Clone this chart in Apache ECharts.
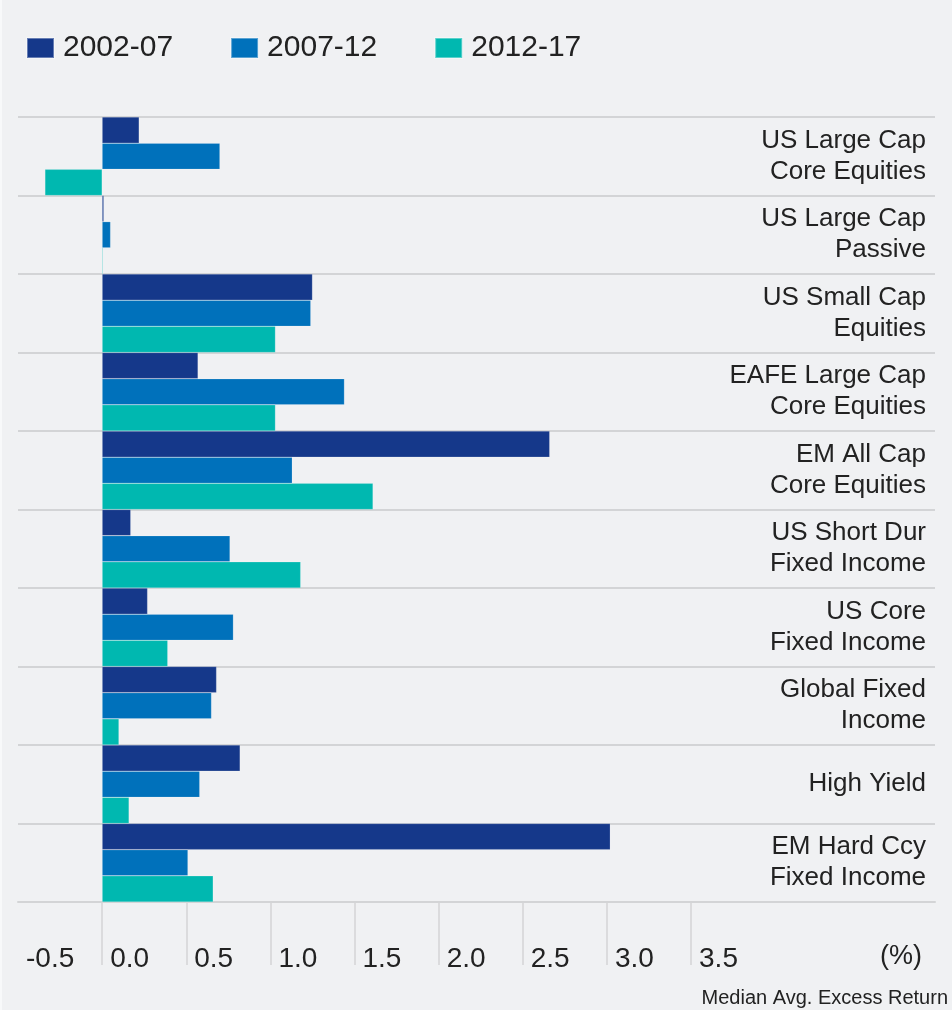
<!DOCTYPE html>
<html>
<head>
<meta charset="utf-8">
<script src="https://cdn.jsdelivr.net/npm/echarts@6/dist/echarts.min.js"></script>
<style>
  html, body { margin: 0; padding: 0; background: #f0f1f3; }
  #chart { width: 952px; height: 1010px; }
</style>
</head>
<body>
<div id="chart"></div>
<script>
const categories = [
  "US Large Cap\nCore Equities",
  "US Large Cap\nPassive",
  "US Small Cap\nEquities",
  "EAFE Large Cap\nCore Equities",
  "EM All Cap\nCore Equities",
  "US Short Dur\nFixed Income",
  "US Core\nFixed Income",
  "Global Fixed\nIncome",
  "High Yield",
  "EM Hard Ccy\nFixed Income"
];
const period1 = [0.22, 0.01, 1.25, 0.57, 2.66, 0.17, 0.27, 0.68, 0.82, 3.02];
const period2 = [0.70, 0.05, 1.24, 1.44, 1.13, 0.76, 0.78, 0.65, 0.58, 0.51];
const period3 = [-0.34, 0.005, 1.03, 1.03, 1.61, 1.18, 0.39, 0.10, 0.16, 0.66];
const labelTicks = [-0.5, 0, 0.5, 1, 1.5, 2, 2.5, 3, 3.5];
const lineTicks = [0, 0.5, 1, 1.5, 2, 2.5, 3, 3.5];

const font = "Liberation Sans";
const grey = "#d3d4d6";

const chart = echarts.init(document.getElementById("chart"));

function bar(name, data, color) {
  return {
    name: name,
    type: "bar",
    data: data,
    barGap: "0%",
    barCategoryGap: "0%",
    itemStyle: { color: color, borderColor: "rgba(255,255,255,0.35)", borderWidth: 0.5 },
    silent: true
  };
}

chart.setOption({
  backgroundColor: "#f0f1f3",
  animation: false,
  legend: {
    left: 21,
    top: 28,
    itemWidth: 27,
    itemHeight: 20,
    itemGap: 57,
    icon: "rect",
    textStyle: { fontFamily: font, fontSize: 30, color: "#222", padding: [0, 0, 0, 4] },
    data: ["2002-07", "2007-12", "2012-17"]
  },
  grid: { left: 18, right: 17, top: 117, bottom: 108 },
  xAxis: {
    type: "value",
    min: -0.5,
    max: 4.95,
    interval: 0.5,
    axisLine: { show: true, lineStyle: { color: grey, width: 2 } },
    axisTick: { show: true, customValues: lineTicks, length: 63, lineStyle: { color: grey, width: 1.5 } },
    axisLabel: {
      customValues: labelTicks,
      formatter: v => v.toFixed(1),
      align: "left",
      padding: [0, 0, 0, 8],
      margin: 43,
      fontFamily: font,
      fontSize: 28,
      color: "#222"
    },
    splitLine: { show: false }
  },
  yAxis: {
    type: "category",
    data: categories,
    inverse: true,
    position: "right",
    axisLine: { show: false },
    axisTick: { show: false },
    splitLine: { show: true, lineStyle: { color: grey, width: 2 } },
    axisLabel: {
      inside: true,
      margin: 9,
      fontFamily: font,
      fontSize: 26,
      lineHeight: 31,
      padding: [12, 0, 0, 0],
      color: "#222"
    }
  },
  graphic: [
    {
      type: "rect",
      left: 0,
      top: 0,
      shape: { width: 2, height: 1010 },
      style: { fill: "#f8f9fa" }
    },
    {
      type: "text",
      right: 30,
      top: 943,
      style: { text: "(%)", font: "27px " + font, fill: "#222" }
    },
    {
      type: "text",
      right: 4,
      top: 988,
      style: { text: "Median Avg. Excess Return", font: "20px " + font, fill: "#222" }
    }
  ],
  series: [
    bar("2002-07", period1, "#15388a"),
    bar("2007-12", period2, "#0071bb"),
    bar("2012-17", period3, "#00b8b0")
  ]
});
</script>
</body>
</html>
